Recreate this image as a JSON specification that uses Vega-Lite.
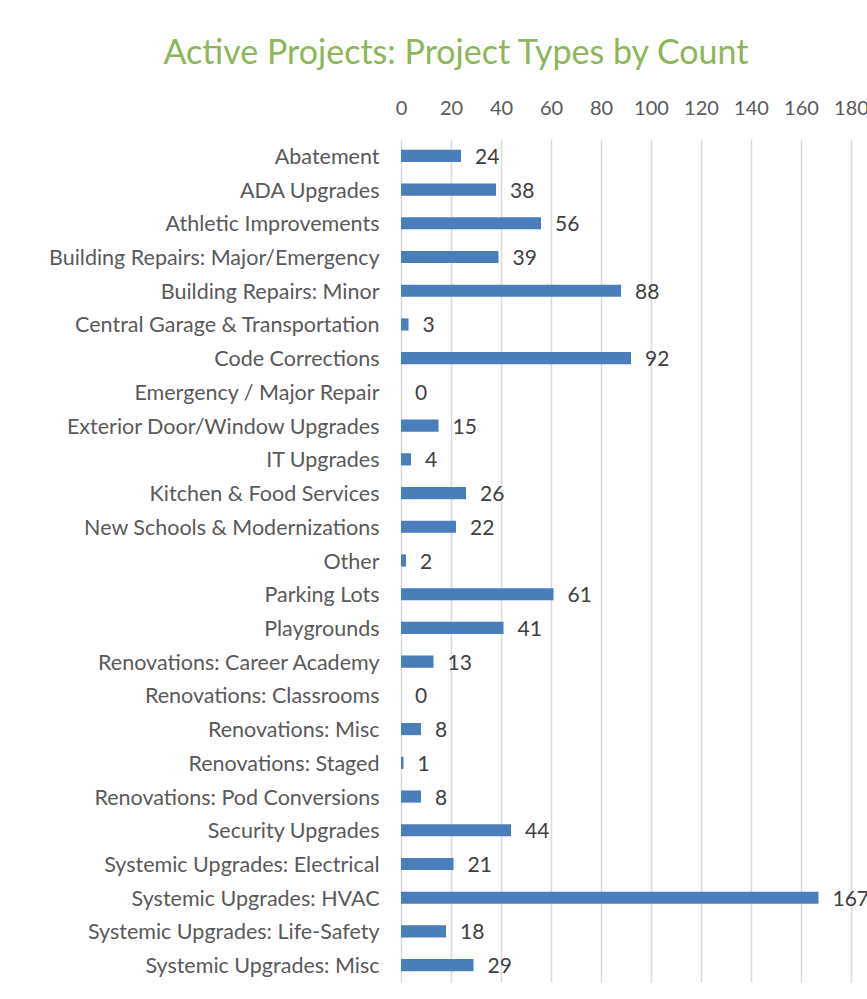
{
  "$schema": "https://vega.github.io/schema/vega-lite/v6.json",
  "width": 450,
  "height": 843,
  "autosize": {"type": "none"},
  "padding": {"left": 401, "top": 139, "right": 16, "bottom": 17},
  "background": "white",
  "title": {
    "text": "Active Projects: Project Types by Count",
    "anchor": "middle",
    "dx": -170,
    "offset": 27,
    "font": "Lato",
    "fontSize": 34,
    "fontWeight": "normal",
    "color": "#8DB65A"
  },
  "data": {
    "values": [
      {"type": "Abatement", "count": 24},
      {"type": "ADA Upgrades", "count": 38},
      {"type": "Athletic Improvements", "count": 56},
      {"type": "Building Repairs: Major/Emergency", "count": 39},
      {"type": "Building Repairs: Minor", "count": 88},
      {"type": "Central Garage & Transportation", "count": 3},
      {"type": "Code Corrections", "count": 92},
      {"type": "Emergency / Major Repair", "count": 0},
      {"type": "Exterior Door/Window Upgrades", "count": 15},
      {"type": "IT Upgrades", "count": 4},
      {"type": "Kitchen & Food Services", "count": 26},
      {"type": "New Schools & Modernizations", "count": 22},
      {"type": "Other", "count": 2},
      {"type": "Parking Lots", "count": 61},
      {"type": "Playgrounds", "count": 41},
      {"type": "Renovations: Career Academy", "count": 13},
      {"type": "Renovations: Classrooms", "count": 0},
      {"type": "Renovations: Misc", "count": 8},
      {"type": "Renovations: Staged", "count": 1},
      {"type": "Renovations: Pod Conversions", "count": 8},
      {"type": "Security Upgrades", "count": 44},
      {"type": "Systemic Upgrades: Electrical", "count": 21},
      {"type": "Systemic Upgrades: HVAC", "count": 167},
      {"type": "Systemic Upgrades: Life-Safety", "count": 18},
      {"type": "Systemic Upgrades: Misc", "count": 29}
    ]
  },
  "encoding": {
    "y": {
      "field": "type",
      "type": "nominal",
      "sort": null,
      "scale": {"paddingInner": 0.64, "paddingOuter": 0.32},
      "axis": {
        "title": null,
        "ticks": false,
        "domain": false,
        "labelFont": "Lato",
        "labelFontSize": 21.5,
        "labelColor": "#595959",
        "labelPadding": 22,
        "labelOffset": 2,
        "labelLimit": 0
      }
    },
    "x": {
      "field": "count",
      "type": "quantitative",
      "scale": {"domain": [0, 180], "nice": false},
      "axis": {
        "orient": "top",
        "title": null,
        "values": [0, 20, 40, 60, 80, 100, 120, 140, 160, 180],
        "ticks": false,
        "domain": false,
        "labelOverlap": false,
        "labelBound": false,
        "labelFlush": false,
        "labelFont": "Lato",
        "labelFontSize": 20,
        "labelColor": "#595959",
        "labelPadding": 21,
        "grid": true,
        "gridColor": "#D9D9D9",
        "gridWidth": 1.5
      }
    }
  },
  "layer": [
    {"mark": {"type": "bar", "color": "#4A7EBB"}},
    {
      "mark": {"type": "text", "align": "left", "baseline": "middle", "dx": 14, "dy": 2, "font": "Lato", "fontSize": 21, "color": "#404040"},
      "encoding": {"text": {"field": "count", "type": "quantitative"}}
    }
  ],
  "config": {"view": {"stroke": null}}
}
